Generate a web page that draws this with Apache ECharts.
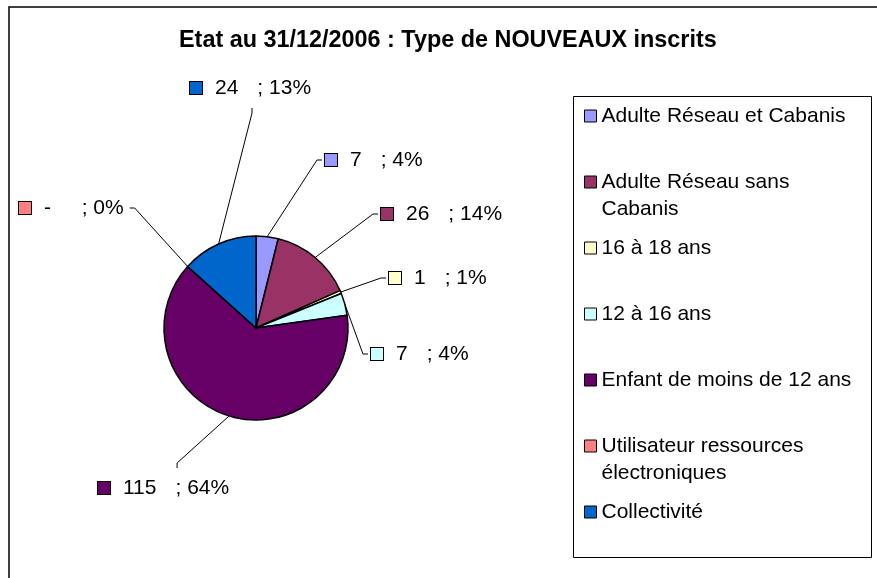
<!DOCTYPE html>
<html>
<head>
<meta charset="utf-8">
<script src="https://cdn.jsdelivr.net/npm/echarts@6/dist/echarts.min.js"></script>
<style>html,body{margin:0;padding:0;background:#fff}#chart{width:877px;height:578px}</style>
</head>
<body>
<div id="chart"></div>
<script>
// categories / values
var categories = ['Adulte Réseau et Cabanis', 'Adulte Réseau sans Cabanis', '16 à 18 ans', '12 à 16 ans',
  'Enfant de moins de 12 ans', 'Utilisateur ressources électroniques', 'Collectivité'];
var values = [7, 26, 1, 7, 115, 0, 24];
var colors = ['#9999FF', '#993366', '#FFFFCC', '#CCFFFF', '#660066', '#FF8080', '#0066CC'];
// where each data label sits (left of its marker, vertical middle)
var labelPos = [[325, 160], [381, 214], [389, 278], [371, 354], [98, 488], [19, 208], [190, 88]];
// legend entries that wrap onto two lines
var legendLines = [1, 2, 1, 1, 1, 2, 1];

var font = '"Liberation Sans", Arial, sans-serif';
var total = values.reduce(function (a, b) { return a + b; }, 0);

var rich = {
  t: {fontFamily: font, fontSize: 21, color: '#000'},
  a: {width: 13},
  b: {width: 19}
};
colors.forEach(function (c, i) {
  rich['m' + i] = {width: 12, height: 12, backgroundColor: c, borderColor: '#000', borderWidth: 1};
});

var pieData = categories.map(function (name, i) {
  var d = {name: name, value: values[i], itemStyle: {color: colors[i]}};
  if (i === 4) d.label = {padding: [8, 30, 8, 3]}; // so the leader line meets the top edge
  return d;
});

// every legend row gets the same 81px box, icon beside the first line
var legendData = categories.map(function (name, i) {
  return {name: name, textStyle: {padding: legendLines[i] === 2 ? [27, 0, 0, 0] : [27, 0, 27, 0]}};
});

var myChart = echarts.init(document.getElementById('chart'));
var option = {
  backgroundColor: '#fff',
  animation: false,
  title: {
    text: 'Etat au 31/12/2006 : Type de NOUVEAUX inscrits',
    left: 179,
    top: 29,
    padding: 0,
    textStyle: {fontFamily: font, fontWeight: 'bold', fontSize: 23.4, color: '#000'}
  },
  legend: {
    orient: 'vertical',
    left: 584,
    top: 75.5,
    padding: 0,
    itemWidth: 12,
    itemHeight: 12,
    itemGap: -15,
    icon: 'rect',
    selectedMode: false,
    itemStyle: {borderColor: '#000', borderWidth: 1},
    formatter: function (name) { return '{n|' + name + '}'; },
    textStyle: {
      fontFamily: font, fontSize: 21, color: '#000', width: 262, overflow: 'break', lineHeight: 27,
      rich: {n: {fontFamily: font, fontSize: 21, color: '#000', lineHeight: 27}}
    },
    data: legendData
  },
  graphic: [
    {type: 'rect', shape: {x: 9, y: 7, width: 900, height: 600}, style: {fill: 'none', stroke: '#000', lineWidth: 1.5}, z: -1},
    {type: 'rect', shape: {x: 573.5, y: 96.5, width: 298, height: 461}, style: {fill: 'none', stroke: '#000', lineWidth: 1}, z: -1}
  ],
  series: [{
    type: 'pie',
    center: [256, 328],
    radius: 92,
    startAngle: 90,
    clockwise: true,
    avoidLabelOverlap: false,
    itemStyle: {borderColor: '#000', borderWidth: 1.5},
    emphasis: {disabled: true},
    label: {
      show: true,
      position: 'outside',
      lineHeight: 24,
      padding: [8, 6, 8, 3],
      formatter: function (p) {
        var pct = Math.round(p.value / total * 100);
        var v = p.value === 0 ? '-  ' : p.value;
        return '{m' + p.dataIndex + '|}{a|}{t|' + v + '}{b|}{t|; ' + pct + '%}';
      },
      rich: rich
    },
    labelLine: {show: true, length: 10, length2: 5, smooth: false, minTurnAngle: 0, lineStyle: {color: '#000', width: 1}},
    labelLayout: function (params) {
      var p = labelPos[params.dataIndex];
      return {x: p[0] - 3, y: p[1], align: 'left', verticalAlign: 'middle'};
    },
    data: pieData
  }]
};
myChart.setOption(option);
</script>
</body>
</html>
